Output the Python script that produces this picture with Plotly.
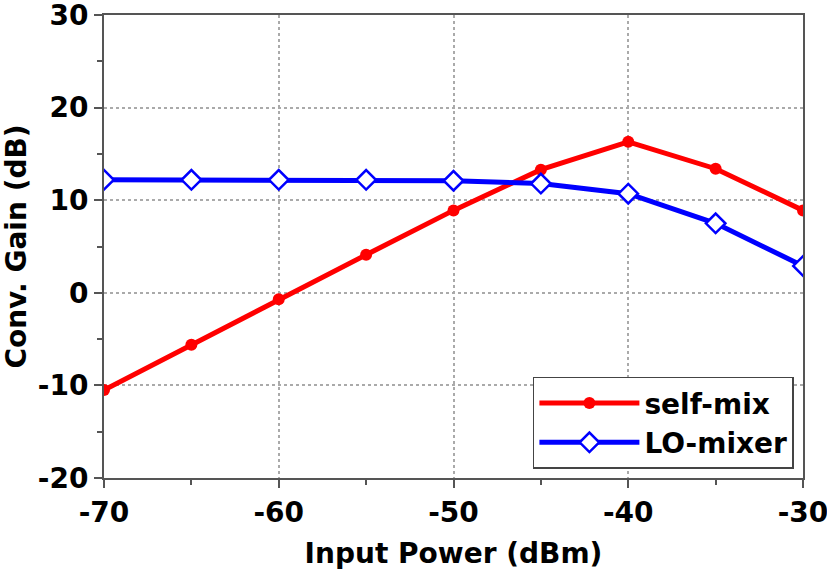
import plotly.graph_objects as go

input_power = [-70, -65, -60, -55, -50, -45, -40, -35, -30]
self_mix = [-10.5, -5.6, -0.7, 4.1, 8.9, 13.3, 16.3, 13.4, 8.9]
lo_mixer = [12.2, 12.2, 12.2, 12.2, 12.1, 11.8, 10.7, 7.5, 2.9]

x_ticks = [-70, -60, -50, -40, -30]
x_tick_labels = ["-70", "-60", "-50", "-40", "-30"]
y_ticks = [-20, -10, 0, 10, 20, 30]
y_tick_labels = ["-20", "-10", "0", "10", "20", "30"]

font_family = "DejaVu Sans, Liberation Sans, Arial, sans-serif"
FS = 28

fig = go.Figure()
fig.add_trace(go.Scatter(
    x=input_power, y=self_mix, name="self-mix", mode="lines+markers",
    line=dict(color="#ff0000", width=5),
    marker=dict(symbol="circle", size=12, color="#ff0000"),
))
fig.add_trace(go.Scatter(
    x=input_power, y=lo_mixer, name="LO-mixer", mode="lines+markers",
    line=dict(color="#0000ff", width=5),
    marker=dict(symbol="diamond", size=15, color="white",
                line=dict(color="#0000ff", width=2.5)),
))

axis_common = dict(
    showline=True, linecolor="#555555", linewidth=2, mirror=True,
    ticks="outside", ticklen=8, tickwidth=2, tickcolor="#555555",
    showgrid=True, gridcolor="#aaaaaa", griddash="dot", gridwidth=1.5,
    zeroline=False, automargin=False, ticklabeloverflow="allow",
    tickfont=dict(family=font_family, size=FS, color="black", weight="bold"),
    minor=dict(ticks="outside", ticklen=5, tickwidth=1.5, tickcolor="#555555", showgrid=False),
)

fig.update_xaxes(
    range=[-70, -30], tickmode="array", tickvals=x_ticks, ticktext=x_tick_labels, **axis_common,
    title=dict(text="<b>Input Power (dBm)</b>", font=dict(family=font_family, size=FS, color="black"), standoff=16),
)
fig.update_xaxes(minor=dict(tickmode="linear", tick0=-70, dtick=5))
fig.update_yaxes(
    range=[-20, 30], tickmode="array", tickvals=y_ticks, ticktext=y_tick_labels, **axis_common,
    title=dict(text="<b>Conv. Gain (dB)</b>", font=dict(family=font_family, size=FS, color="black"), standoff=5),
)
fig.update_yaxes(minor=dict(tickmode="linear", tick0=-20, dtick=5))

fig.update_layout(
    width=827, height=577,
    margin=dict(l=104, r=24, t=15, b=99),
    paper_bgcolor="white", plot_bgcolor="white",
    showlegend=True,
    legend=dict(
        x=0.987, y=0.02, xanchor="right", yanchor="bottom",
        bgcolor="white", bordercolor="#444444", borderwidth=1.5,
        font=dict(family=font_family, size=FS, color="black", weight="bold"),
        itemwidth=100,
    ),
)

fig.write_html("out.html", config={"displayModeBar": False},
               post_script="document.body.style.margin='0';")
